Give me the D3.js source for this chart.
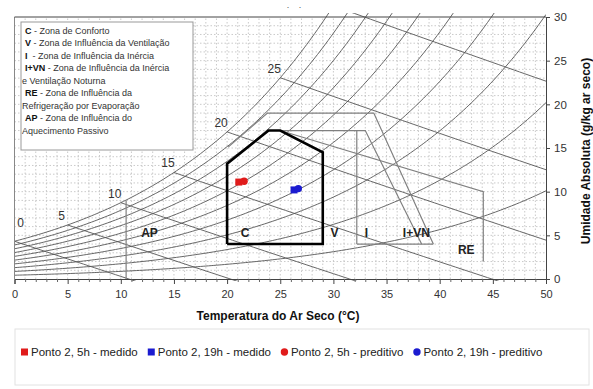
<!DOCTYPE html>
<html><head><meta charset="utf-8">
<script src="https://cdn.jsdelivr.net/npm/d3@7/dist/d3.min.js"></script>
<style>
body{margin:0;background:#fff;}
svg{display:block;font-family:"Liberation Sans",Arial,sans-serif;}
</style>
</head><body>
<svg id="chart" width="593" height="389"></svg>
<script>
// ---------- data ----------
const xTicks = [0, 5, 10, 15, 20, 25, 30, 35, 40, 45, 50];
const yTicks = [0, 5, 10, 15, 20, 25, 30];
const rhLevels = [10, 20, 30, 40, 50, 60, 70, 80, 90, 100];
const wetBulbLevels = [0, 5, 10, 15, 20, 25, 30];
const pressureKPa = 88.5;

const comfortZone = [[20, 4], [20, 13.2], [23.9, 17], [25, 17], [29, 14.5], [29, 4], [20, 4]];
const zoneLines = [
  [[20.1, 15.1], [23.8, 19], [33.8, 19], [39.4, 4]],
  [[25, 17], [33.0, 17], [38.3, 4]],
  [[32.2, 17], [32.2, 4]],
  [[32.2, 4], [39.4, 4]],
  [[25, 17], [44.1, 10], [44.1, 2]],
  [[10.5, 0], [10.5, 9.0]]
];
const zoneNames = ["AP", "C", "V", "I", "I+VN", "RE"];
const zoneNameTemp = [12.7, 21.7, 30.1, 33.1, 37.8, 42.5];
const zoneNameHum = [5.3, 5.3, 5.3, 5.3, 5.3, 3.3];

const seriesNames = ["Ponto 2, 5h - medido", "Ponto 2, 19h - medido", "Ponto 2, 5h - preditivo", "Ponto 2, 19h - preditivo"];
const seriesTemp = [21.1, 26.3, 21.6, 26.7];
const seriesHum = [11.1, 10.2, 11.2, 10.35];
const seriesShape = ["square", "square", "circle", "circle"];

const noteLines = [
  ["C", " - Zona de Conforto"],
  ["V", " - Zona de Influência da Ventilação"],
  ["I", "  - Zona de Influência da Inércia"],
  ["I+VN", " - Zona de Influência da Inércia"],
  ["", "e Ventilação Noturna"],
  ["RE", " - Zona de Influência da"],
  ["", "Refrigeração por Evaporação"],
  ["AP", " - Zona de Influência do"],
  ["", "Aquecimento Passivo"]
];

// ---------- setup ----------
const svg = d3.select("#chart");
const X0 = 14.5, X1 = 546, Y0 = 279, Y1 = 17;
const x = d3.scaleLinear().domain([0, 50]).range([X0, X1]);
const y = d3.scaleLinear().domain([0, 30]).range([Y0, Y1]);
const colors = {red: "#e01b1b", blue: "#1b1bd0"};
const seriesColor = i => (i % 2 === 0 ? colors.red : colors.blue);

const pws = T => 0.61094 * Math.exp(17.625 * T / (T + 243.04));
const Ws = T => 622 * pws(T) / (pressureKPa - pws(T));

svg.append("defs").append("clipPath").attr("id", "plotclip")
  .append("rect").attr("x", X0).attr("y", Y1 - 4).attr("width", X1 - X0).attr("height", Y0 - Y1 + 6);

// grid
const grid = svg.append("g").attr("stroke", "#bdbdbd").attr("stroke-width", 0.8).attr("stroke-dasharray", "1.5,2");
d3.range(1, 50).forEach(t => grid.append("line").attr("x1", x(t)).attr("x2", x(t)).attr("y1", y(0)).attr("y2", y(30)));
d3.range(1, 30).forEach(w => grid.append("line").attr("x1", x(0)).attr("x2", x(50)).attr("y1", y(w)).attr("y2", y(w)));

const plot = svg.append("g").attr("clip-path", "url(#plotclip)");
const line = d3.line().x(d => x(d[0])).y(d => y(d[1]));

// relative humidity curves
rhLevels.forEach(rh => {
  const pts = [];
  for (let t = 0; t <= 50.001; t += 0.25) {
    const w = rh / 100 * Ws(t);
    pts.push([t, w]);
    if (w > 31) break;
  }
  plot.append("path").attr("d", line(pts)).attr("fill", "none").attr("stroke", "#555").attr("stroke-width", 0.9);
});

// wet bulb lines
wetBulbLevels.forEach(twb => {
  const wsw = Ws(twb) / 1000;
  const pts = [];
  for (let t = twb; t <= 50.001; t += 0.5) {
    const w = ((2501 - 2.326 * twb) * wsw - 1.006 * (t - twb)) / (2501 + 1.86 * t - 4.186 * twb) * 1000;
    pts.push([t, w]);
    if (w < -0.3) break;
  }
  plot.append("path").attr("d", line(pts)).attr("fill", "none").attr("stroke", "#555").attr("stroke-width", 0.9);
});

// zone lines
zoneLines.forEach(zl => {
  plot.append("path").attr("d", line(zl)).attr("fill", "none").attr("stroke", "#808080").attr("stroke-width", 1.2);
});
plot.append("path").attr("d", line(comfortZone)).attr("fill", "none").attr("stroke", "#000")
  .attr("stroke-width", 2.6).attr("stroke-linejoin", "miter");

// wet bulb labels
wetBulbLevels.filter(t => Ws(t) < 29).forEach(t => {
  const px = t === 0 ? x(0) + 6 : x(t) - 6;
  const py = t === 0 ? y(Ws(t)) - 14 : y(Ws(t)) - 5;
  svg.append("text").attr("x", px).attr("y", py).attr("text-anchor", "middle")
    .attr("font-size", 12).attr("fill", "#333").text(t);
});

// zone labels
zoneNames.forEach((n, i) => {
  svg.append("text").attr("x", x(zoneNameTemp[i])).attr("y", y(zoneNameHum[i])).attr("dy", "0.35em")
    .attr("text-anchor", "middle").attr("font-size", 12).attr("font-weight", "bold").attr("fill", "#222").text(n);
});

// frame & axes
svg.append("line").attr("x1", X0).attr("x2", X0).attr("y1", Y1).attr("y2", Y0).attr("stroke", "#888");
svg.append("line").attr("x1", X0).attr("x2", X1).attr("y1", Y1).attr("y2", Y1).attr("stroke", "#444");

const xAxis = d3.axisBottom(x).tickValues(xTicks).tickSize(5).tickPadding(6);
const gx = svg.append("g").attr("transform", `translate(0,${Y0})`).call(xAxis);
gx.select(".domain").attr("stroke", "#444");
gx.selectAll(".tick line").attr("stroke", "#444");
gx.selectAll("text").attr("font-size", 11).attr("fill", "#333").attr("font-family", "Liberation Sans, Arial, sans-serif");
const gxm = svg.append("g").attr("transform", `translate(0,${Y0})`)
  .call(d3.axisBottom(x).tickValues(d3.range(0, 51).filter(v => v % 5)).tickSize(3).tickFormat(""));
gxm.select(".domain").remove();
gxm.selectAll(".tick line").attr("stroke", "#666");

const yAxis = d3.axisRight(y).tickValues(yTicks).tickSize(4).tickPadding(4);
const gy = svg.append("g").attr("transform", `translate(${X1},0)`).call(yAxis);
gy.select(".domain").attr("stroke", "#444");
gy.selectAll(".tick line").attr("stroke", "#444");
gy.selectAll("text").attr("font-size", 11.5).attr("fill", "#333").attr("font-family", "Liberation Sans, Arial, sans-serif");

svg.append("text").attr("x", 278).attr("y", 320).attr("text-anchor", "middle")
  .attr("font-size", 12).attr("font-weight", "bold").attr("fill", "#111").text("Temperatura do Ar Seco (°C)");
svg.append("text").attr("transform", "translate(590,151) rotate(-90)").attr("text-anchor", "middle")
  .attr("font-size", 12).attr("font-weight", "bold").attr("fill", "#111").text("Umidade Absoluta (g/kg ar seco)");

// stray marks at the top
[288, 300].forEach(px => svg.append("text").attr("x", px).attr("y", 8).attr("font-size", 9)
  .attr("text-anchor", "middle").attr("fill", "#555").text("."));

// note box
svg.append("rect").attr("x", 21).attr("y", 22).attr("width", 172).attr("height", 128)
  .attr("fill", "#fff").attr("stroke", "#999");
noteLines.forEach((l, i) => {
  const t = svg.append("text").attr("x", l[0] ? 25 : 22).attr("y", 33.5 + i * 12.5)
    .attr("font-size", 9).attr("fill", "#333").attr("xml:space", "preserve");
  if (l[0]) t.append("tspan").attr("font-weight", "bold").attr("fill", "#111").text(l[0]);
  t.append("tspan").text(l[1]);
});

// data points
seriesNames.forEach((n, i) => {
  const cx = x(seriesTemp[i]), cy = y(seriesHum[i]);
  if (seriesShape[i] === "square") {
    svg.append("rect").attr("x", cx - 3.5).attr("y", cy - 3.5).attr("width", 7).attr("height", 7).attr("fill", seriesColor(i));
  } else {
    svg.append("circle").attr("cx", cx).attr("cy", cy).attr("r", 3.7).attr("fill", seriesColor(i));
  }
});

// legend
svg.append("rect").attr("x", 15).attr("y", 329).attr("width", 574).attr("height", 56)
  .attr("fill", "none").attr("stroke", "#e2e2e2");
let lx = 21;
const ly = 352;
seriesNames.forEach((n, i) => {
  if (seriesShape[i] === "square") {
    svg.append("rect").attr("x", lx).attr("y", ly - 3.5).attr("width", 7).attr("height", 7).attr("fill", seriesColor(i));
  } else {
    svg.append("circle").attr("cx", lx + 3.5).attr("cy", ly).attr("r", 3.7).attr("fill", seriesColor(i));
  }
  const t = svg.append("text").attr("x", lx + 10).attr("y", ly).attr("dy", "0.35em")
    .attr("font-size", 11.5).attr("fill", "#222").text(n);
  lx += 10 + t.node().getComputedTextLength() + 10;
});
</script>
</body></html>
